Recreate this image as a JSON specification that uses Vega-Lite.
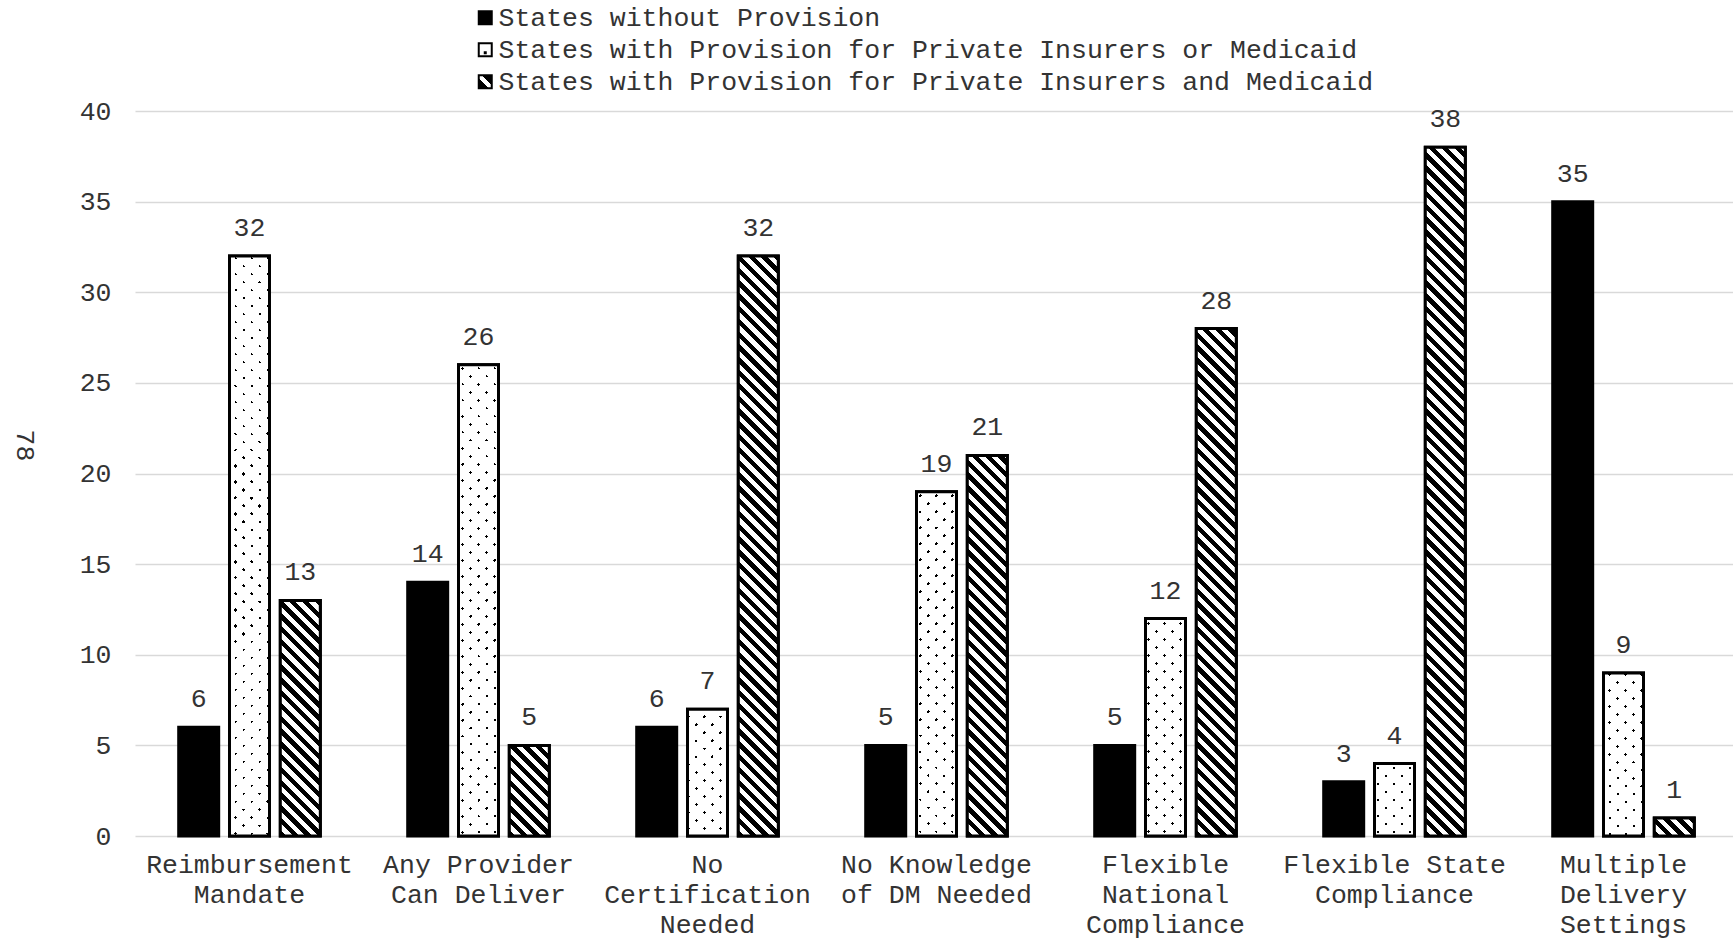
{
"$schema": "https://vega.github.io/schema/vega-lite/v6.json",
"autosize": {"type": "none"},
"padding": {"left": 135, "top": 111, "right": -5, "bottom": 105},
"width": 1603,
"height": 725,
"params": [
{"name": "hatchStops", "value": [{"offset":0,"color":"#000"},
{"offset":0.008,"color":"#000"},{"offset":0.008,"color":"#fff"},{"offset":0.016,"color":"#fff"},{"offset":0.016,"color":"#000"},
{"offset":0.024,"color":"#000"},{"offset":0.024,"color":"#fff"},{"offset":0.032,"color":"#fff"},{"offset":0.032,"color":"#000"},
{"offset":0.04,"color":"#000"},{"offset":0.04,"color":"#fff"},{"offset":0.048,"color":"#fff"},{"offset":0.048,"color":"#000"},
{"offset":0.056,"color":"#000"},{"offset":0.056,"color":"#fff"},{"offset":0.064,"color":"#fff"},{"offset":0.064,"color":"#000"},
{"offset":0.072,"color":"#000"},{"offset":0.072,"color":"#fff"},{"offset":0.08,"color":"#fff"},{"offset":0.08,"color":"#000"},
{"offset":0.088,"color":"#000"},{"offset":0.088,"color":"#fff"},{"offset":0.096,"color":"#fff"},{"offset":0.096,"color":"#000"},
{"offset":0.104,"color":"#000"},{"offset":0.104,"color":"#fff"},{"offset":0.112,"color":"#fff"},{"offset":0.112,"color":"#000"},
{"offset":0.12,"color":"#000"},{"offset":0.12,"color":"#fff"},{"offset":0.128,"color":"#fff"},{"offset":0.128,"color":"#000"},
{"offset":0.136,"color":"#000"},{"offset":0.136,"color":"#fff"},{"offset":0.144,"color":"#fff"},{"offset":0.144,"color":"#000"},
{"offset":0.152,"color":"#000"},{"offset":0.152,"color":"#fff"},{"offset":0.16,"color":"#fff"},{"offset":0.16,"color":"#000"},
{"offset":0.168,"color":"#000"},{"offset":0.168,"color":"#fff"},{"offset":0.176,"color":"#fff"},{"offset":0.176,"color":"#000"},
{"offset":0.184,"color":"#000"},{"offset":0.184,"color":"#fff"},{"offset":0.192,"color":"#fff"},{"offset":0.192,"color":"#000"},
{"offset":0.2,"color":"#000"},{"offset":0.2,"color":"#fff"},{"offset":0.208,"color":"#fff"},{"offset":0.208,"color":"#000"},
{"offset":0.216,"color":"#000"},{"offset":0.216,"color":"#fff"},{"offset":0.224,"color":"#fff"},{"offset":0.224,"color":"#000"},
{"offset":0.232,"color":"#000"},{"offset":0.232,"color":"#fff"},{"offset":0.24,"color":"#fff"},{"offset":0.24,"color":"#000"},
{"offset":0.248,"color":"#000"},{"offset":0.248,"color":"#fff"},{"offset":0.256,"color":"#fff"},{"offset":0.256,"color":"#000"},
{"offset":0.264,"color":"#000"},{"offset":0.264,"color":"#fff"},{"offset":0.272,"color":"#fff"},{"offset":0.272,"color":"#000"},
{"offset":0.28,"color":"#000"},{"offset":0.28,"color":"#fff"},{"offset":0.288,"color":"#fff"},{"offset":0.288,"color":"#000"},
{"offset":0.296,"color":"#000"},{"offset":0.296,"color":"#fff"},{"offset":0.304,"color":"#fff"},{"offset":0.304,"color":"#000"},
{"offset":0.312,"color":"#000"},{"offset":0.312,"color":"#fff"},{"offset":0.32,"color":"#fff"},{"offset":0.32,"color":"#000"},
{"offset":0.328,"color":"#000"},{"offset":0.328,"color":"#fff"},{"offset":0.336,"color":"#fff"},{"offset":0.336,"color":"#000"},
{"offset":0.344,"color":"#000"},{"offset":0.344,"color":"#fff"},{"offset":0.352,"color":"#fff"},{"offset":0.352,"color":"#000"},
{"offset":0.36,"color":"#000"},{"offset":0.36,"color":"#fff"},{"offset":0.368,"color":"#fff"},{"offset":0.368,"color":"#000"},
{"offset":0.376,"color":"#000"},{"offset":0.376,"color":"#fff"},{"offset":0.384,"color":"#fff"},{"offset":0.384,"color":"#000"},
{"offset":0.392,"color":"#000"},{"offset":0.392,"color":"#fff"},{"offset":0.4,"color":"#fff"},{"offset":0.4,"color":"#000"},
{"offset":0.408,"color":"#000"},{"offset":0.408,"color":"#fff"},{"offset":0.416,"color":"#fff"},{"offset":0.416,"color":"#000"},
{"offset":0.424,"color":"#000"},{"offset":0.424,"color":"#fff"},{"offset":0.432,"color":"#fff"},{"offset":0.432,"color":"#000"},
{"offset":0.44,"color":"#000"},{"offset":0.44,"color":"#fff"},{"offset":0.448,"color":"#fff"},{"offset":0.448,"color":"#000"},
{"offset":0.456,"color":"#000"},{"offset":0.456,"color":"#fff"},{"offset":0.464,"color":"#fff"},{"offset":0.464,"color":"#000"},
{"offset":0.472,"color":"#000"},{"offset":0.472,"color":"#fff"},{"offset":0.48,"color":"#fff"},{"offset":0.48,"color":"#000"},
{"offset":0.488,"color":"#000"},{"offset":0.488,"color":"#fff"},{"offset":0.496,"color":"#fff"},{"offset":0.496,"color":"#000"},
{"offset":0.504,"color":"#000"},{"offset":0.504,"color":"#fff"},{"offset":0.512,"color":"#fff"},{"offset":0.512,"color":"#000"},
{"offset":0.52,"color":"#000"},{"offset":0.52,"color":"#fff"},{"offset":0.528,"color":"#fff"},{"offset":0.528,"color":"#000"},
{"offset":0.536,"color":"#000"},{"offset":0.536,"color":"#fff"},{"offset":0.544,"color":"#fff"},{"offset":0.544,"color":"#000"},
{"offset":0.552,"color":"#000"},{"offset":0.552,"color":"#fff"},{"offset":0.56,"color":"#fff"},{"offset":0.56,"color":"#000"},
{"offset":0.568,"color":"#000"},{"offset":0.568,"color":"#fff"},{"offset":0.576,"color":"#fff"},{"offset":0.576,"color":"#000"},
{"offset":0.584,"color":"#000"},{"offset":0.584,"color":"#fff"},{"offset":0.592,"color":"#fff"},{"offset":0.592,"color":"#000"},
{"offset":0.6,"color":"#000"},{"offset":0.6,"color":"#fff"},{"offset":0.608,"color":"#fff"},{"offset":0.608,"color":"#000"},
{"offset":0.616,"color":"#000"},{"offset":0.616,"color":"#fff"},{"offset":0.624,"color":"#fff"},{"offset":0.624,"color":"#000"},
{"offset":0.632,"color":"#000"},{"offset":0.632,"color":"#fff"},{"offset":0.64,"color":"#fff"},{"offset":0.64,"color":"#000"},
{"offset":0.648,"color":"#000"},{"offset":0.648,"color":"#fff"},{"offset":0.656,"color":"#fff"},{"offset":0.656,"color":"#000"},
{"offset":0.664,"color":"#000"},{"offset":0.664,"color":"#fff"},{"offset":0.672,"color":"#fff"},{"offset":0.672,"color":"#000"},
{"offset":0.68,"color":"#000"},{"offset":0.68,"color":"#fff"},{"offset":0.688,"color":"#fff"},{"offset":0.688,"color":"#000"},
{"offset":0.696,"color":"#000"},{"offset":0.696,"color":"#fff"},{"offset":0.704,"color":"#fff"},{"offset":0.704,"color":"#000"},
{"offset":0.712,"color":"#000"},{"offset":0.712,"color":"#fff"},{"offset":0.72,"color":"#fff"},{"offset":0.72,"color":"#000"},
{"offset":0.728,"color":"#000"},{"offset":0.728,"color":"#fff"},{"offset":0.736,"color":"#fff"},{"offset":0.736,"color":"#000"},
{"offset":0.744,"color":"#000"},{"offset":0.744,"color":"#fff"},{"offset":0.752,"color":"#fff"},{"offset":0.752,"color":"#000"},
{"offset":0.76,"color":"#000"},{"offset":0.76,"color":"#fff"},{"offset":0.768,"color":"#fff"},{"offset":0.768,"color":"#000"},
{"offset":0.776,"color":"#000"},{"offset":0.776,"color":"#fff"},{"offset":0.784,"color":"#fff"},{"offset":0.784,"color":"#000"},
{"offset":0.792,"color":"#000"},{"offset":0.792,"color":"#fff"},{"offset":0.8,"color":"#fff"},{"offset":0.8,"color":"#000"},
{"offset":0.808,"color":"#000"},{"offset":0.808,"color":"#fff"},{"offset":0.816,"color":"#fff"},{"offset":0.816,"color":"#000"},
{"offset":0.824,"color":"#000"},{"offset":0.824,"color":"#fff"},{"offset":0.832,"color":"#fff"},{"offset":0.832,"color":"#000"},
{"offset":0.84,"color":"#000"},{"offset":0.84,"color":"#fff"},{"offset":0.848,"color":"#fff"},{"offset":0.848,"color":"#000"},
{"offset":0.856,"color":"#000"},{"offset":0.856,"color":"#fff"},{"offset":0.864,"color":"#fff"},{"offset":0.864,"color":"#000"},
{"offset":0.872,"color":"#000"},{"offset":0.872,"color":"#fff"},{"offset":0.88,"color":"#fff"},{"offset":0.88,"color":"#000"},
{"offset":0.888,"color":"#000"},{"offset":0.888,"color":"#fff"},{"offset":0.896,"color":"#fff"},{"offset":0.896,"color":"#000"},
{"offset":0.904,"color":"#000"},{"offset":0.904,"color":"#fff"},{"offset":0.912,"color":"#fff"},{"offset":0.912,"color":"#000"},
{"offset":0.92,"color":"#000"},{"offset":0.92,"color":"#fff"}]},
{"name": "dotLineStops", "value": [
{"offset":0.008125,"color":"#fff"},{"offset":0.008125,"color":"#000"},{"offset":0.011875,"color":"#000"},{"offset":0.011875,"color":"#fff"},
{"offset":0.028125,"color":"#fff"},{"offset":0.028125,"color":"#000"},{"offset":0.031875,"color":"#000"},{"offset":0.031875,"color":"#fff"},
{"offset":0.048125,"color":"#fff"},{"offset":0.048125,"color":"#000"},{"offset":0.051875,"color":"#000"},{"offset":0.051875,"color":"#fff"},
{"offset":0.068125,"color":"#fff"},{"offset":0.068125,"color":"#000"},{"offset":0.071875,"color":"#000"},{"offset":0.071875,"color":"#fff"},
{"offset":0.088125,"color":"#fff"},{"offset":0.088125,"color":"#000"},{"offset":0.091875,"color":"#000"},{"offset":0.091875,"color":"#fff"},
{"offset":0.108125,"color":"#fff"},{"offset":0.108125,"color":"#000"},{"offset":0.111875,"color":"#000"},{"offset":0.111875,"color":"#fff"},
{"offset":0.128125,"color":"#fff"},{"offset":0.128125,"color":"#000"},{"offset":0.131875,"color":"#000"},{"offset":0.131875,"color":"#fff"},
{"offset":0.148125,"color":"#fff"},{"offset":0.148125,"color":"#000"},{"offset":0.151875,"color":"#000"},{"offset":0.151875,"color":"#fff"},
{"offset":0.168125,"color":"#fff"},{"offset":0.168125,"color":"#000"},{"offset":0.171875,"color":"#000"},{"offset":0.171875,"color":"#fff"},
{"offset":0.188125,"color":"#fff"},{"offset":0.188125,"color":"#000"},{"offset":0.191875,"color":"#000"},{"offset":0.191875,"color":"#fff"},
{"offset":0.208125,"color":"#fff"},{"offset":0.208125,"color":"#000"},{"offset":0.211875,"color":"#000"},{"offset":0.211875,"color":"#fff"},
{"offset":0.228125,"color":"#fff"},{"offset":0.228125,"color":"#000"},{"offset":0.231875,"color":"#000"},{"offset":0.231875,"color":"#fff"},
{"offset":0.248125,"color":"#fff"},{"offset":0.248125,"color":"#000"},{"offset":0.251875,"color":"#000"},{"offset":0.251875,"color":"#fff"},
{"offset":0.268125,"color":"#fff"},{"offset":0.268125,"color":"#000"},{"offset":0.271875,"color":"#000"},{"offset":0.271875,"color":"#fff"},
{"offset":0.288125,"color":"#fff"},{"offset":0.288125,"color":"#000"},{"offset":0.291875,"color":"#000"},{"offset":0.291875,"color":"#fff"},
{"offset":0.308125,"color":"#fff"},{"offset":0.308125,"color":"#000"},{"offset":0.311875,"color":"#000"},{"offset":0.311875,"color":"#fff"},
{"offset":0.328125,"color":"#fff"},{"offset":0.328125,"color":"#000"},{"offset":0.331875,"color":"#000"},{"offset":0.331875,"color":"#fff"},
{"offset":0.348125,"color":"#fff"},{"offset":0.348125,"color":"#000"},{"offset":0.351875,"color":"#000"},{"offset":0.351875,"color":"#fff"},
{"offset":0.368125,"color":"#fff"},{"offset":0.368125,"color":"#000"},{"offset":0.371875,"color":"#000"},{"offset":0.371875,"color":"#fff"},
{"offset":0.388125,"color":"#fff"},{"offset":0.388125,"color":"#000"},{"offset":0.391875,"color":"#000"},{"offset":0.391875,"color":"#fff"},
{"offset":0.408125,"color":"#fff"},{"offset":0.408125,"color":"#000"},{"offset":0.411875,"color":"#000"},{"offset":0.411875,"color":"#fff"},
{"offset":0.428125,"color":"#fff"},{"offset":0.428125,"color":"#000"},{"offset":0.431875,"color":"#000"},{"offset":0.431875,"color":"#fff"},
{"offset":0.448125,"color":"#fff"},{"offset":0.448125,"color":"#000"},{"offset":0.451875,"color":"#000"},{"offset":0.451875,"color":"#fff"},
{"offset":0.468125,"color":"#fff"},{"offset":0.468125,"color":"#000"},{"offset":0.471875,"color":"#000"},{"offset":0.471875,"color":"#fff"},
{"offset":0.488125,"color":"#fff"},{"offset":0.488125,"color":"#000"},{"offset":0.491875,"color":"#000"},{"offset":0.491875,"color":"#fff"},
{"offset":0.508125,"color":"#fff"},{"offset":0.508125,"color":"#000"},{"offset":0.511875,"color":"#000"},{"offset":0.511875,"color":"#fff"},
{"offset":0.528125,"color":"#fff"},{"offset":0.528125,"color":"#000"},{"offset":0.531875,"color":"#000"},{"offset":0.531875,"color":"#fff"},
{"offset":0.548125,"color":"#fff"},{"offset":0.548125,"color":"#000"},{"offset":0.551875,"color":"#000"},{"offset":0.551875,"color":"#fff"},
{"offset":0.568125,"color":"#fff"},{"offset":0.568125,"color":"#000"},{"offset":0.571875,"color":"#000"},{"offset":0.571875,"color":"#fff"},
{"offset":0.588125,"color":"#fff"},{"offset":0.588125,"color":"#000"},{"offset":0.591875,"color":"#000"},{"offset":0.591875,"color":"#fff"},
{"offset":0.608125,"color":"#fff"},{"offset":0.608125,"color":"#000"},{"offset":0.611875,"color":"#000"},{"offset":0.611875,"color":"#fff"},
{"offset":0.628125,"color":"#fff"},{"offset":0.628125,"color":"#000"},{"offset":0.631875,"color":"#000"},{"offset":0.631875,"color":"#fff"},
{"offset":0.648125,"color":"#fff"},{"offset":0.648125,"color":"#000"},{"offset":0.651875,"color":"#000"},{"offset":0.651875,"color":"#fff"},
{"offset":0.668125,"color":"#fff"},{"offset":0.668125,"color":"#000"},{"offset":0.671875,"color":"#000"},{"offset":0.671875,"color":"#fff"},
{"offset":0.688125,"color":"#fff"},{"offset":0.688125,"color":"#000"},{"offset":0.691875,"color":"#000"},{"offset":0.691875,"color":"#fff"},
{"offset":0.708125,"color":"#fff"},{"offset":0.708125,"color":"#000"},{"offset":0.711875,"color":"#000"},{"offset":0.711875,"color":"#fff"},
{"offset":0.728125,"color":"#fff"},{"offset":0.728125,"color":"#000"},{"offset":0.731875,"color":"#000"},{"offset":0.731875,"color":"#fff"},
{"offset":0.748125,"color":"#fff"},{"offset":0.748125,"color":"#000"},{"offset":0.751875,"color":"#000"},{"offset":0.751875,"color":"#fff"},
{"offset":0.768125,"color":"#fff"},{"offset":0.768125,"color":"#000"},{"offset":0.771875,"color":"#000"},{"offset":0.771875,"color":"#fff"},
{"offset":0.788125,"color":"#fff"},{"offset":0.788125,"color":"#000"},{"offset":0.791875,"color":"#000"},{"offset":0.791875,"color":"#fff"}]},
{"name": "dotGapStops", "value": [
{"offset":0.008125,"color":"#fff"},{"offset":0.008125,"color":"rgba(255,255,255,0)"},{"offset":0.011875,"color":"rgba(255,255,255,0)"},{"offset":0.011875,"color":"#fff"},
{"offset":0.028125,"color":"#fff"},{"offset":0.028125,"color":"rgba(255,255,255,0)"},{"offset":0.031875,"color":"rgba(255,255,255,0)"},{"offset":0.031875,"color":"#fff"},
{"offset":0.048125,"color":"#fff"},{"offset":0.048125,"color":"rgba(255,255,255,0)"},{"offset":0.051875,"color":"rgba(255,255,255,0)"},{"offset":0.051875,"color":"#fff"},
{"offset":0.068125,"color":"#fff"},{"offset":0.068125,"color":"rgba(255,255,255,0)"},{"offset":0.071875,"color":"rgba(255,255,255,0)"},{"offset":0.071875,"color":"#fff"},
{"offset":0.088125,"color":"#fff"},{"offset":0.088125,"color":"rgba(255,255,255,0)"},{"offset":0.091875,"color":"rgba(255,255,255,0)"},{"offset":0.091875,"color":"#fff"},
{"offset":0.108125,"color":"#fff"},{"offset":0.108125,"color":"rgba(255,255,255,0)"},{"offset":0.111875,"color":"rgba(255,255,255,0)"},{"offset":0.111875,"color":"#fff"},
{"offset":0.128125,"color":"#fff"},{"offset":0.128125,"color":"rgba(255,255,255,0)"},{"offset":0.131875,"color":"rgba(255,255,255,0)"},{"offset":0.131875,"color":"#fff"},
{"offset":0.148125,"color":"#fff"},{"offset":0.148125,"color":"rgba(255,255,255,0)"},{"offset":0.151875,"color":"rgba(255,255,255,0)"},{"offset":0.151875,"color":"#fff"},
{"offset":0.168125,"color":"#fff"},{"offset":0.168125,"color":"rgba(255,255,255,0)"},{"offset":0.171875,"color":"rgba(255,255,255,0)"},{"offset":0.171875,"color":"#fff"},
{"offset":0.188125,"color":"#fff"},{"offset":0.188125,"color":"rgba(255,255,255,0)"},{"offset":0.191875,"color":"rgba(255,255,255,0)"},{"offset":0.191875,"color":"#fff"},
{"offset":0.208125,"color":"#fff"},{"offset":0.208125,"color":"rgba(255,255,255,0)"},{"offset":0.211875,"color":"rgba(255,255,255,0)"},{"offset":0.211875,"color":"#fff"},
{"offset":0.228125,"color":"#fff"},{"offset":0.228125,"color":"rgba(255,255,255,0)"},{"offset":0.231875,"color":"rgba(255,255,255,0)"},{"offset":0.231875,"color":"#fff"},
{"offset":0.248125,"color":"#fff"},{"offset":0.248125,"color":"rgba(255,255,255,0)"},{"offset":0.251875,"color":"rgba(255,255,255,0)"},{"offset":0.251875,"color":"#fff"},
{"offset":0.268125,"color":"#fff"},{"offset":0.268125,"color":"rgba(255,255,255,0)"},{"offset":0.271875,"color":"rgba(255,255,255,0)"},{"offset":0.271875,"color":"#fff"},
{"offset":0.288125,"color":"#fff"},{"offset":0.288125,"color":"rgba(255,255,255,0)"},{"offset":0.291875,"color":"rgba(255,255,255,0)"},{"offset":0.291875,"color":"#fff"},
{"offset":0.308125,"color":"#fff"},{"offset":0.308125,"color":"rgba(255,255,255,0)"},{"offset":0.311875,"color":"rgba(255,255,255,0)"},{"offset":0.311875,"color":"#fff"},
{"offset":0.328125,"color":"#fff"},{"offset":0.328125,"color":"rgba(255,255,255,0)"},{"offset":0.331875,"color":"rgba(255,255,255,0)"},{"offset":0.331875,"color":"#fff"},
{"offset":0.348125,"color":"#fff"},{"offset":0.348125,"color":"rgba(255,255,255,0)"},{"offset":0.351875,"color":"rgba(255,255,255,0)"},{"offset":0.351875,"color":"#fff"},
{"offset":0.368125,"color":"#fff"},{"offset":0.368125,"color":"rgba(255,255,255,0)"},{"offset":0.371875,"color":"rgba(255,255,255,0)"},{"offset":0.371875,"color":"#fff"},
{"offset":0.388125,"color":"#fff"},{"offset":0.388125,"color":"rgba(255,255,255,0)"},{"offset":0.391875,"color":"rgba(255,255,255,0)"},{"offset":0.391875,"color":"#fff"},
{"offset":0.408125,"color":"#fff"},{"offset":0.408125,"color":"rgba(255,255,255,0)"},{"offset":0.411875,"color":"rgba(255,255,255,0)"},{"offset":0.411875,"color":"#fff"},
{"offset":0.428125,"color":"#fff"},{"offset":0.428125,"color":"rgba(255,255,255,0)"},{"offset":0.431875,"color":"rgba(255,255,255,0)"},{"offset":0.431875,"color":"#fff"},
{"offset":0.448125,"color":"#fff"},{"offset":0.448125,"color":"rgba(255,255,255,0)"},{"offset":0.451875,"color":"rgba(255,255,255,0)"},{"offset":0.451875,"color":"#fff"},
{"offset":0.468125,"color":"#fff"},{"offset":0.468125,"color":"rgba(255,255,255,0)"},{"offset":0.471875,"color":"rgba(255,255,255,0)"},{"offset":0.471875,"color":"#fff"},
{"offset":0.488125,"color":"#fff"},{"offset":0.488125,"color":"rgba(255,255,255,0)"},{"offset":0.491875,"color":"rgba(255,255,255,0)"},{"offset":0.491875,"color":"#fff"},
{"offset":0.508125,"color":"#fff"},{"offset":0.508125,"color":"rgba(255,255,255,0)"},{"offset":0.511875,"color":"rgba(255,255,255,0)"},{"offset":0.511875,"color":"#fff"},
{"offset":0.528125,"color":"#fff"},{"offset":0.528125,"color":"rgba(255,255,255,0)"},{"offset":0.531875,"color":"rgba(255,255,255,0)"},{"offset":0.531875,"color":"#fff"},
{"offset":0.548125,"color":"#fff"},{"offset":0.548125,"color":"rgba(255,255,255,0)"},{"offset":0.551875,"color":"rgba(255,255,255,0)"},{"offset":0.551875,"color":"#fff"},
{"offset":0.568125,"color":"#fff"},{"offset":0.568125,"color":"rgba(255,255,255,0)"},{"offset":0.571875,"color":"rgba(255,255,255,0)"},{"offset":0.571875,"color":"#fff"},
{"offset":0.588125,"color":"#fff"},{"offset":0.588125,"color":"rgba(255,255,255,0)"},{"offset":0.591875,"color":"rgba(255,255,255,0)"},{"offset":0.591875,"color":"#fff"},
{"offset":0.608125,"color":"#fff"},{"offset":0.608125,"color":"rgba(255,255,255,0)"},{"offset":0.611875,"color":"rgba(255,255,255,0)"},{"offset":0.611875,"color":"#fff"},
{"offset":0.628125,"color":"#fff"},{"offset":0.628125,"color":"rgba(255,255,255,0)"},{"offset":0.631875,"color":"rgba(255,255,255,0)"},{"offset":0.631875,"color":"#fff"},
{"offset":0.648125,"color":"#fff"},{"offset":0.648125,"color":"rgba(255,255,255,0)"},{"offset":0.651875,"color":"rgba(255,255,255,0)"},{"offset":0.651875,"color":"#fff"},
{"offset":0.668125,"color":"#fff"},{"offset":0.668125,"color":"rgba(255,255,255,0)"},{"offset":0.671875,"color":"rgba(255,255,255,0)"},{"offset":0.671875,"color":"#fff"},
{"offset":0.688125,"color":"#fff"},{"offset":0.688125,"color":"rgba(255,255,255,0)"},{"offset":0.691875,"color":"rgba(255,255,255,0)"},{"offset":0.691875,"color":"#fff"},
{"offset":0.708125,"color":"#fff"},{"offset":0.708125,"color":"rgba(255,255,255,0)"},{"offset":0.711875,"color":"rgba(255,255,255,0)"},{"offset":0.711875,"color":"#fff"},
{"offset":0.728125,"color":"#fff"},{"offset":0.728125,"color":"rgba(255,255,255,0)"},{"offset":0.731875,"color":"rgba(255,255,255,0)"},{"offset":0.731875,"color":"#fff"},
{"offset":0.748125,"color":"#fff"},{"offset":0.748125,"color":"rgba(255,255,255,0)"},{"offset":0.751875,"color":"rgba(255,255,255,0)"},{"offset":0.751875,"color":"#fff"},
{"offset":0.768125,"color":"#fff"},{"offset":0.768125,"color":"rgba(255,255,255,0)"},{"offset":0.771875,"color":"rgba(255,255,255,0)"},{"offset":0.771875,"color":"#fff"},
{"offset":0.788125,"color":"#fff"},{"offset":0.788125,"color":"rgba(255,255,255,0)"},{"offset":0.791875,"color":"rgba(255,255,255,0)"},{"offset":0.791875,"color":"#fff"}]}
],
"data": {"values": [
{"feature":"Reimbursement Mandate","series":"States without Provision","value":6},
{"feature":"Reimbursement Mandate","series":"States with Provision for Private Insurers or Medicaid","value":32},
{"feature":"Reimbursement Mandate","series":"States with Provision for Private Insurers and Medicaid","value":13},
{"feature":"Any Provider Can Deliver","series":"States without Provision","value":14},
{"feature":"Any Provider Can Deliver","series":"States with Provision for Private Insurers or Medicaid","value":26},
{"feature":"Any Provider Can Deliver","series":"States with Provision for Private Insurers and Medicaid","value":5},
{"feature":"No Certification Needed","series":"States without Provision","value":6},
{"feature":"No Certification Needed","series":"States with Provision for Private Insurers or Medicaid","value":7},
{"feature":"No Certification Needed","series":"States with Provision for Private Insurers and Medicaid","value":32},
{"feature":"No Knowledge of DM Needed","series":"States without Provision","value":5},
{"feature":"No Knowledge of DM Needed","series":"States with Provision for Private Insurers or Medicaid","value":19},
{"feature":"No Knowledge of DM Needed","series":"States with Provision for Private Insurers and Medicaid","value":21},
{"feature":"Flexible National Compliance","series":"States without Provision","value":5},
{"feature":"Flexible National Compliance","series":"States with Provision for Private Insurers or Medicaid","value":12},
{"feature":"Flexible National Compliance","series":"States with Provision for Private Insurers and Medicaid","value":28},
{"feature":"Flexible State Compliance","series":"States without Provision","value":3},
{"feature":"Flexible State Compliance","series":"States with Provision for Private Insurers or Medicaid","value":4},
{"feature":"Flexible State Compliance","series":"States with Provision for Private Insurers and Medicaid","value":38},
{"feature":"Multiple Delivery Settings","series":"States without Provision","value":35},
{"feature":"Multiple Delivery Settings","series":"States with Provision for Private Insurers or Medicaid","value":9},
{"feature":"Multiple Delivery Settings","series":"States with Provision for Private Insurers and Medicaid","value":1}
]},
"encoding": {
"x": {"field": "feature", "type": "nominal",
 "scale": {"domain": ["Reimbursement Mandate","Any Provider Can Deliver","No Certification Needed","No Knowledge of DM Needed","Flexible National Compliance","Flexible State Compliance","Multiple Delivery Settings"], "paddingInner": 0, "paddingOuter": 0, "round": false},
 "axis": {"title": null, "labelAngle": 0, "domain": false, "ticks": false, "tickSize": 0, "grid": false, "labelPadding": 15, "labelFont": "Liberation Mono", "labelFontSize": 26.5, "labelColor": "#333", "labelLineHeight": 30, "labelLimit": 0, "labelOverlap": false, "labelBound": false, "labelFlush": false,
  "labelExpr": "({'Reimbursement Mandate':['Reimbursement','Mandate'],'Any Provider Can Deliver':['Any Provider','Can Deliver'],'No Certification Needed':['No','Certification','Needed'],'No Knowledge of DM Needed':['No Knowledge','of DM Needed'],'Flexible National Compliance':['Flexible','National','Compliance'],'Flexible State Compliance':['Flexible State','Compliance'],'Multiple Delivery Settings':['Multiple','Delivery','Settings']})[datum.value]"}},
"xOffset": {"field": "series", "type": "nominal",
 "scale": {"domain": ["States without Provision","States with Provision for Private Insurers or Medicaid","States with Provision for Private Insurers and Medicaid"], "paddingInner": 0.212598, "paddingOuter": 0.860236, "round": false}},
"y": {"field": "value", "type": "quantitative",
 "scale": {"domain": [0, 40], "nice": false, "zero": true},
 "axis": {"values": [0,5,10,15,20,25,30,35,40], "grid": true, "gridColor": "#d9d9d9", "gridWidth": 1.3, "domain": false, "ticks": false, "tickSize": 0, "labelPadding": 24, "labelFont": "Liberation Mono", "labelFontSize": 26.5, "labelColor": "#333",
  "title": "78", "titleFont": "Liberation Mono", "titleFontSize": 26.5, "titleFontWeight": "normal", "titleColor": "#333", "titleAngle": 90, "titleX": -111, "titleY": 334, "titleAlign": "center", "titleBaseline": "middle"}}
},
"layer": [
{"mark": {"type": "bar", "stroke": "#000", "strokeWidth": 3},
 "encoding": {"fill": {"field": "series", "type": "nominal",
  "scale": {"domain": ["States without Provision","States with Provision for Private Insurers or Medicaid","States with Provision for Private Insurers and Medicaid"],
   "range": ["#000",
    {"expr": "{gradient:'radial',x1:0.5,y1:0.72,r1:0,x2:0.5,y2:0.72,r2:0.5,stops:[{offset:0,color:'#000'},{offset:0.24,color:'#000'},{offset:0.24,color:'#fff'},{offset:1,color:'#fff'}]}"},
    {"expr": "{gradient:'linear',x1:0,y1:1,x2:1,y2:0,stops:[{offset:0,color:'#000'},{offset:0.4,color:'#000'},{offset:0.4,color:'#fff'},{offset:0.6,color:'#fff'},{offset:0.6,color:'#000'},{offset:1,color:'#000'}]}"}]},
  "legend": {"orient": "none", "legendX": 337, "legendY": -106.5, "title": null, "direction": "vertical", "padding": 0, "symbolType": "square", "symbolSize": 169, "symbolStrokeWidth": 2, "symbolStrokeColor": "#000", "symbolOpacity": 1, "labelFont": "Liberation Mono", "labelFontSize": 26.5, "labelColor": "#333", "labelOffset": 0, "rowPadding": 5, "labelLimit": 0}}}},
{"transform": [{"filter": "datum.series === 'States with Provision for Private Insurers or Medicaid'"}],
 "mark": {"type": "bar", "strokeWidth": 0, "fill": {"expr": "{gradient:'linear', x1:0, y1:1, x2: 800*40/(1600+pow(datum.value*18.125,2)), y2: 1-800*datum.value*18.125/(1600+pow(datum.value*18.125,2)), stops: dotLineStops}"}}},
{"transform": [{"filter": "datum.series === 'States with Provision for Private Insurers or Medicaid'"}],
 "mark": {"type": "bar", "stroke": "#000", "strokeWidth": 3, "fill": {"expr": "{gradient:'linear', x1:0, y1:0, x2: 800*40/(1600+pow(datum.value*18.125,2)), y2: 800*datum.value*18.125/(1600+pow(datum.value*18.125,2)), stops: dotGapStops}"}}},
{"transform": [{"filter": "datum.series === 'States with Provision for Private Insurers and Medicaid'"}],
 "mark": {"type": "bar", "stroke": "#000", "strokeWidth": 3, "fill": {"expr": "{gradient:'linear', x1:0, y1:1, x2: 800*40/(1600+pow(datum.value*18.125,2)), y2: 1-800*datum.value*18.125/(1600+pow(datum.value*18.125,2)), stops: hatchStops}"}}},
{"mark": {"type": "text", "font": "Liberation Mono", "fontSize": 26.5, "fill": "#333", "baseline": "alphabetic", "dy": -20},
 "encoding": {"text": {"field": "value", "type": "quantitative"}}}
],
"config": {"view": {"stroke": null}, "font": "Liberation Mono"}
}
